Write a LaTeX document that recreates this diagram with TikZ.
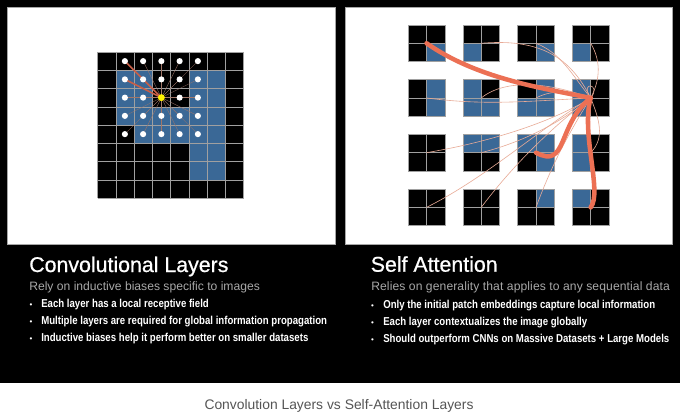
\documentclass[tikz,border=0pt]{standalone}
\usepackage{fontspec}
\setmainfont{Liberation Sans}
\newfontfamily\pointfont[FakeStretch=0.84]{Liberation Sans}
\newfontfamily\headfont[FakeBold=0.7]{Liberation Sans}
\usetikzlibrary{positioning}
\definecolor{patchblue}{RGB}{58,104,150}
\definecolor{attnorange}{RGB}{236,112,84}
\definecolor{attnthin}{RGB}{232,170,150}
\definecolor{gridgray}{RGB}{160,160,160}
\definecolor{subgray}{RGB}{168,168,168}
\definecolor{capgray}{RGB}{85,85,85}
\tikzset{
  gridline/.style={draw=gridgray, line width=0.35pt},
  kline/.style={draw=attnthin!70!black, line width=0.25pt},
  kthick/.style={draw=attnorange!85!black, line width=1.1pt},
  wdot/.style={circle, fill=white, inner sep=0pt, minimum size=4.6pt},
  kcenter/.style={circle, fill=yellow, inner sep=0pt, minimum size=5.2pt},
  athin/.style={draw=attnthin, line width=0.45pt},
  athick/.style={draw=attnorange, line width=3.4pt, line cap=round},
  heading/.style={anchor=base west, inner sep=0pt, text=white, font=\headfont\fontsize{16}{18}\selectfont},
  subline/.style={anchor=base west, inner sep=0pt, text=subgray, font=\fontsize{9.1}{11}\selectfont},
  pointtxt/.style={anchor=base west, inner sep=0pt, text=white, font=\pointfont\bfseries\fontsize{8.6}{10}\selectfont},
  pointdot/.style={anchor=base, inner sep=0pt, text=white, font=\fontsize{6}{6}\selectfont}
}

\begin{document}
\begin{tikzpicture}[x=0.75pt,y=-0.75pt]
\useasboundingbox (0,0) rectangle (680,413);
\fill[white] (0,0) rectangle (680,413);
\fill[black] (0,0) rectangle (680,383);
% white panels
\filldraw[fill=white, draw=gray!70, line width=0.4pt] (7,7) rectangle (335,244);
\filldraw[fill=white, draw=gray!70, line width=0.4pt] (345,7) rectangle (672,244);

% convolution: 8x8 image with a 5x5 kernel
\begin{scope}[shift={(97.5,52)}]
\fill[black] (0,0) rectangle (146,146);
\foreach \c/\r in {1/1,2/1,5/1,6/1,1/2,2/2,5/2,6/2,1/3,2/3,3/3,4/3,5/3,6/3,
                   2/4,3/4,4/4,5/4,6/4,5/5,6/5,5/6,6/6}
  \fill[patchblue] (18.25*\c,18.25*\r) rectangle +(18.25,18.25);
\foreach \k in {0,...,8} {
  \draw[gridline] (18.25*\k,0) -- (18.25*\k,146);
  \draw[gridline] (0,18.25*\k) -- (146,18.25*\k);
}
\coordinate (kc) at (18.25*3.5,18.25*2.5);
\foreach \c in {1,...,5}
  \foreach \r in {0,...,4} {
    \ifnum\c\r=32 \else
      \coordinate (d\c\r) at (18.25*\c+9.125,18.25*\r+9.125);
      \draw[kline] (kc) -- (d\c\r);
    \fi
  }
\draw[kthick] (kc) -- (d10);
\draw[kthick] (kc) -- (d11);
\foreach \c in {1,...,5}
  \foreach \r in {0,...,4} {
    \ifnum\c\r=32 \else
      \node[wdot] (w\c\r) at (d\c\r) {};
    \fi
  }
\node[kcenter] (kn) at (kc) {};
\end{scope}

% self attention: 4x4 patches of 2x2 pixels
\begin{scope}[shift={(408.3,25)}]
\foreach \i in {0,...,3}
  \foreach \j in {0,...,3} {
    \fill[black] (54.7*\j,54.7*\i) rectangle +(36.5,36.5);
    \coordinate (b\i\j) at (54.7*\j+18.25,54.7*\i+18.25);
  }
\foreach \i/\j/\a/\b in {0/0/1/1,0/1/0/1,0/2/1/1,0/3/0/1,
                         1/0/1/0,1/0/1/1,1/1/0/0,1/1/0/1,1/1/1/1,1/2/1/0,1/2/0/1,1/2/1/1,1/3/0/0,1/3/0/1,
                         2/1/0/0,2/1/1/0,2/2/0/0,2/2/1/0,2/2/1/1,2/3/0/0,2/3/0/1,
                         3/2/1/0,3/3/0/0}
  \fill[patchblue] (54.7*\j+18.25*\a,54.7*\i+18.25*\b) rectangle +(18.25,18.25);
\foreach \i in {0,...,3}
  \foreach \j in {0,...,3} {
    \draw[gridline] (54.7*\j,54.7*\i) rectangle +(36.5,36.5);
    \draw[gridline] (54.7*\j+18.25,54.7*\i) -- +(0,36.5);
    \draw[gridline] (54.7*\j,54.7*\i+18.25) -- +(36.5,0);
  }
% thin attention links
\draw[athin] (b01) .. controls +(60,-5) and +(-20,-40) .. (b13);
\draw[athin] (b02) .. controls +(25,10) and +(-20,-25) .. (b13);
\draw[athin] (b03) .. controls +(12,20) and +(8,-15) .. (b13);
\draw[athin] (b10) .. controls +(60,8) and +(-60,3) .. (b13);
\draw[athin] (b11) .. controls +(25,-20) and +(-40,-15) .. (b13);
\draw[athin] (b12) .. controls +(20,-10) and +(-20,-5) .. (b13);
\draw[athin] (b13) .. controls +(-12,-18) and +(12,-14) .. (b13);
\draw[athin] (b20) .. controls +(60,-10) and +(-40,25) .. (b13);
\draw[athin] (b21) .. controls +(40,-10) and +(-30,25) .. (b13);
\draw[athin] (b23) .. controls +(15,-15) and +(8,20) .. (b13);
\draw[athin] (b30) .. controls +(60,-30) and +(-50,30) .. (b13);
\draw[athin] (b31) .. controls +(30,-40) and +(-40,30) .. (b13);
\draw[athin] (b32) .. controls +(15,-40) and +(-25,40) .. (b13);
% strong attention links
\draw[athick] (b00) .. controls +(50,35) and +(-50,-10) .. (b13);
\draw[athick] (b22) .. controls +(32,17) and +(-34,27) .. (b13);
\draw[athick] (b33) .. controls +(12,-15) and +(-10,35) .. (b13);
\end{scope}

% left text
\node[heading] (convtitle) at (29,272) {Convolutional Layers};
\node[subline] (convsub) at (29,290.5) {Rely on inductive biases specific to images};
\foreach \t [count=\k] in {Each layer has a local receptive field,
    Multiple layers are required for global information propagation,
    Inductive biases help it perform better on smaller datasets} {
  \node[pointdot] (convdot\k) at (31,290.8+17*\k) {•};
  \node[pointtxt] (convpt\k) at (41,290.8+17*\k) {\t};
}
% right text
\node[heading] (attntitle) at (370.5,271.7) {Self Attention};
\node[subline, font=\addfontfeature{LetterSpace=0.8}\fontsize{9.1}{11}\selectfont] (attnsub) at (371,290) {Relies on generality that applies to any sequential data};
\foreach \t [count=\k] in {Only the initial patch embeddings capture local information,
    Each layer contextualizes the image globally,
    Should outperform CNNs on Massive Datasets + Large Models} {
  \node[pointdot] (attndot\k) at (372.5,291.3+17*\k) {•};
  \node[pointtxt] (attnpt\k) at (383,291.3+17*\k) {\t};
}
% caption
\node[anchor=base, inner sep=0pt, text=capgray, font=\fontsize{10.4}{12}\selectfont] (caption) at (339,409) {Convolution Layers vs Self-Attention Layers};
\end{tikzpicture}
\end{document}
